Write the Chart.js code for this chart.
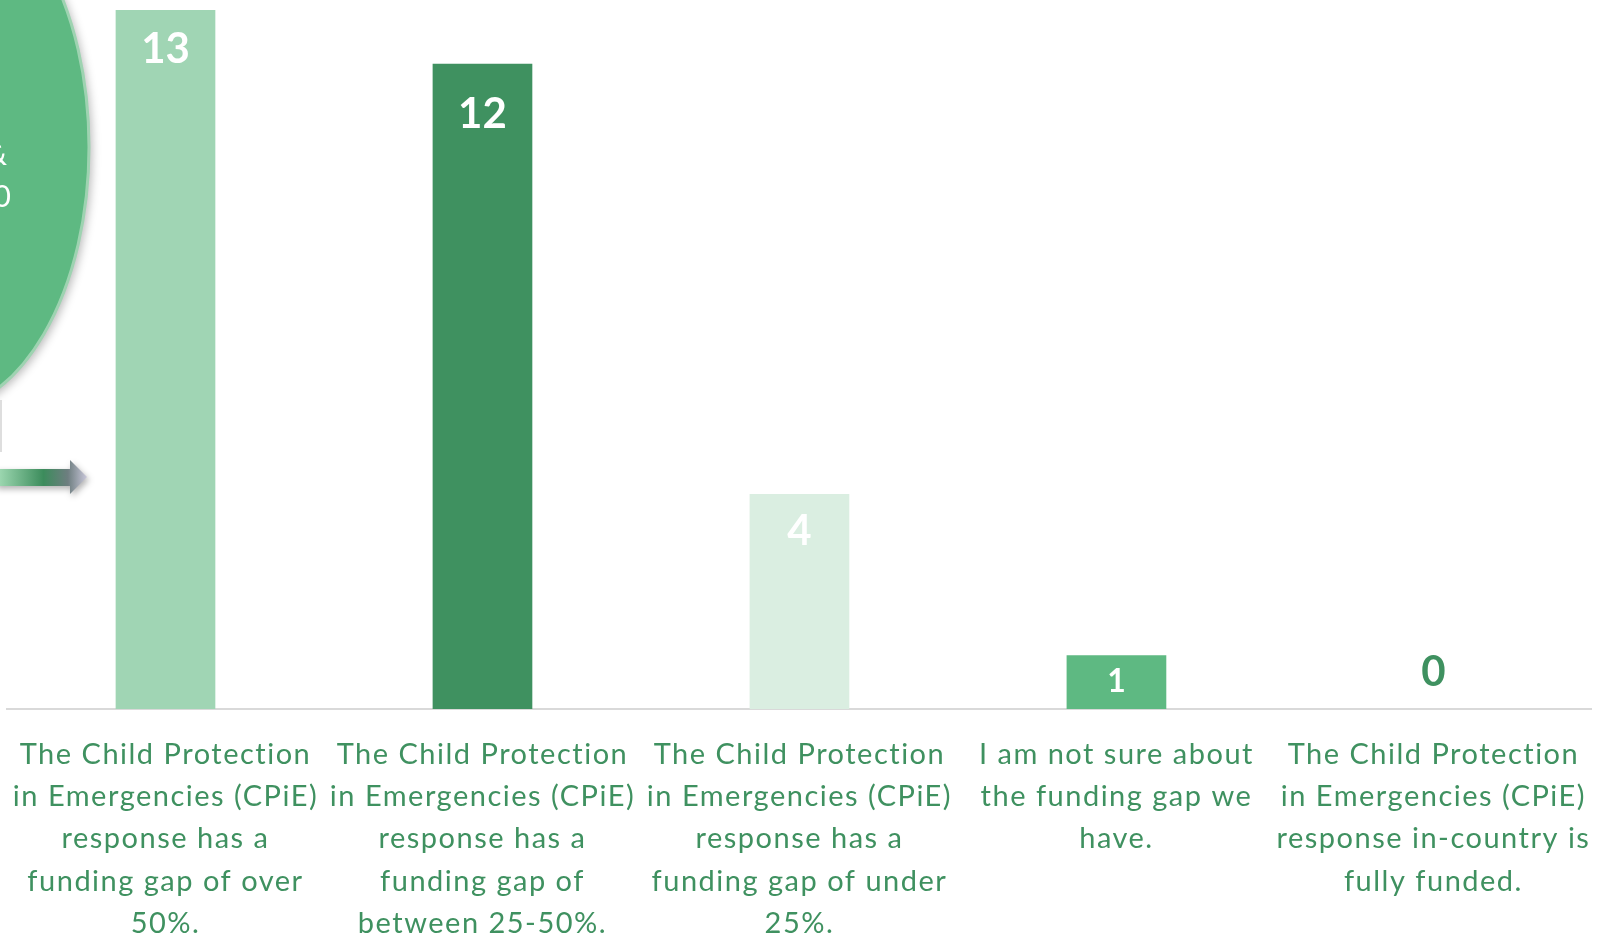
<!DOCTYPE html>
<html>
<head>
<meta charset="utf-8">
<title>CPiE funding gap</title>
<script src="https://cdn.jsdelivr.net/npm/chart.js@4/dist/chart.umd.min.js"></script>
<style>
  html, body { margin: 0; padding: 0; background: #ffffff; overflow: hidden; }
  #gapChart { display: block; }
</style>
</head>
<body>
<canvas id="gapChart" width="1598" height="937"></canvas>
<script>
// answers to "what is the funding gap of the CPiE response?"
const answerLabels = [
  ['The Child Protection', 'in Emergencies (CPiE)', 'response has a', 'funding gap of over', '50%.'],
  ['The Child Protection', 'in Emergencies (CPiE)', 'response has a', 'funding gap of', 'between 25-50%.'],
  ['The Child Protection', 'in Emergencies (CPiE)', 'response has a', 'funding gap of under', '25%.'],
  ['I am not sure about', 'the funding gap we', 'have.'],
  ['The Child Protection', 'in Emergencies (CPiE)', 'response in-country is', 'fully funded.']
];
const responseCounts = [13, 12, 4, 1, 0];
const barColors = ['#A0D5B4', '#3F9160', '#DAEEE1', '#5EB982', '#5EB982'];

const textGreen = '#3F9160';

// loosen the category text a little, like the slide's spaced-out font
const tickSpacing = {
  id: 'tickSpacing',
  beforeDraw(chart) { chart.ctx.letterSpacing = '1.5px'; },
  beforeDatasetsDraw(chart) { chart.ctx.letterSpacing = '0px'; }
};

// value labels: inside the bar near its top, small bars centred, zero above the axis
const valueLabels = {
  id: 'valueLabels',
  afterDatasetsDraw(chart, args, opts) {
    const ctx = chart.ctx;
    const meta = chart.getDatasetMeta(0);
    ctx.save();
    ctx.textAlign = 'center';
    ctx.textBaseline = 'middle';
    meta.data.forEach((bar, i) => {
      const v = chart.data.datasets[0].data[i];
      let y, size = opts.size, color = '#ffffff';
      if (v === 0) {
        y = bar.base - opts.zeroLift;
        color = textGreen;
      } else if (bar.base - bar.y < 80) {
        y = (bar.y + bar.base) / 2;
        size = opts.smallSize;
      } else {
        y = bar.y + opts.inset[i];
      }
      ctx.font = 'bold ' + size + 'px Lato, "Open Sans", sans-serif';
      ctx.fillStyle = color;
      ctx.fillText(String(v), bar.x, y);
    });
    ctx.restore();
  }
};

// bubble and arrow sitting at the left edge of the slide
const sideShapes = {
  id: 'sideShapes',
  afterDraw(chart) {
    const ctx = chart.ctx;
    ctx.save();
    ctx.shadowColor = 'rgba(0,0,0,0.28)';
    ctx.shadowBlur = 10;
    ctx.shadowOffsetX = 3;
    ctx.shadowOffsetY = 3;
    ctx.beginPath();
    ctx.ellipse(-66, 147, 155, 265, 0, 0, Math.PI * 2);
    ctx.fillStyle = '#5EB982';
    ctx.fill();
    ctx.shadowColor = 'transparent';
    ctx.lineWidth = 3;
    ctx.strokeStyle = '#9ED3B1';
    ctx.stroke();

    ctx.fillStyle = '#ffffff';
    ctx.font = '30px Lato, sans-serif';
    ctx.textAlign = 'right';
    ctx.textBaseline = 'middle';
    ctx.fillText('&', 7, 155);
    ctx.fillText('0', 11, 197);

    // faint connector stub
    ctx.strokeStyle = 'rgba(200,200,200,0.6)';
    ctx.lineWidth = 2;
    ctx.beginPath();
    ctx.moveTo(1, 400);
    ctx.lineTo(1, 452);
    ctx.stroke();

    // arrow
    const g = ctx.createLinearGradient(0, 0, 87, 0);
    g.addColorStop(0, '#9BD6AF');
    g.addColorStop(0.5, '#3C8C5C');
    g.addColorStop(0.78, '#6E7E80');
    g.addColorStop(1, '#C9C7DA');
    ctx.shadowColor = 'rgba(0,0,0,0.3)';
    ctx.shadowBlur = 6;
    ctx.shadowOffsetX = 2;
    ctx.shadowOffsetY = 3;
    ctx.fillStyle = g;
    ctx.beginPath();
    ctx.moveTo(-5, 469);
    ctx.lineTo(70, 469);
    ctx.lineTo(70, 460);
    ctx.lineTo(87, 477);
    ctx.lineTo(70, 494);
    ctx.lineTo(70, 486);
    ctx.lineTo(-5, 486);
    ctx.closePath();
    ctx.fill();
    ctx.restore();
  }
};

const chart = new Chart(document.getElementById('gapChart'), {
  type: 'bar',
  data: {
    labels: answerLabels,
    datasets: [{
      data: responseCounts,
      backgroundColor: barColors,
      borderWidth: 0,
      categoryPercentage: 1,
      barPercentage: 0.3145
    }]
  },
  options: {
    responsive: false,
    animation: false,
    layout: { padding: { top: 10, left: 7, right: 1, bottom: 0 } },
    plugins: {
      legend: { display: false },
      tooltip: { enabled: false },
      valueLabels: { size: 42, smallSize: 32, zeroLift: 37, inset: [39, 51, 38, 0, 0] }
    },
    scales: {
      x: {
        grid: { display: false, drawTicks: false },
        border: { display: true, color: '#D9D9D9', width: 2 },
        ticks: {
          color: textGreen,
          font: { family: 'Lato, "Open Sans", sans-serif', size: 29, lineHeight: 1.46 },
          padding: 24,
          autoSkip: false,
          maxRotation: 0,
          minRotation: 0
        },
        afterFit(scale) { scale.height = 228; }
      },
      y: {
        display: false,
        min: 0,
        max: 13
      }
    }
  },
  plugins: [tickSpacing, valueLabels, sideShapes]
});
</script>
</body>
</html>
